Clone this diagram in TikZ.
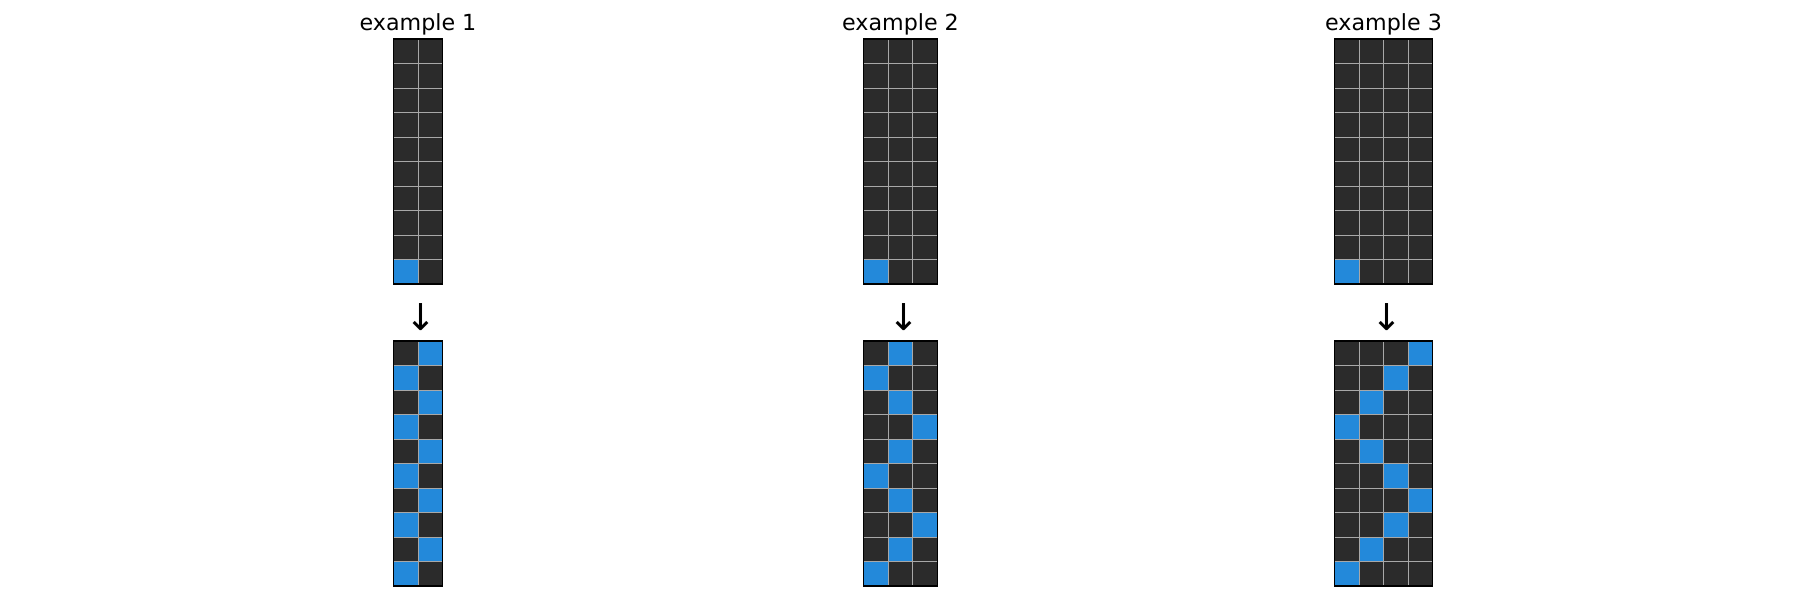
\documentclass[tikz,border=0pt]{standalone}
\usepackage{fontspec}
\setmainfont{DejaVu Sans}
\definecolor{cellbg}{HTML}{2B2B2B}
\definecolor{cellblue}{HTML}{2389DA}
\definecolor{gridgray}{HTML}{A8A8A8}
\tikzset{
  titletext/.style={font=\fontsize{11.1}{12}\selectfont, anchor=base, inner sep=0pt},
  arrowtext/.style={font=\fontsize{18.5}{19}\selectfont, inner sep=0pt},
  gridline/.style={gridgray, line width=0.45pt},
  border/.style={black, line width=0.6pt}
}
% #1 left x, #2 top y, #3 columns, #4 list of blue column per row (-1 = none)
\newcommand\cellgrid[4]{%
  \fill[cellbg] (#1,#2) rectangle ++({#3*24.5},245);
  \foreach \c [count=\r from 0] in {#4}{%
    \ifnum\c>-1
      \fill[cellblue] ({#1+\c*24.5},{#2+\r*24.5}) rectangle ++(24.5,24.5);
    \fi
  }
  \foreach \i in {1,...,9}{\draw[gridline] (#1,{#2+\i*24.5}) -- ++({#3*24.5},0);}
  \pgfmathtruncatemacro\lastc{#3-1}
  \foreach \j in {1,...,\lastc}{\draw[gridline] ({#1+\j*24.5},#2) -- ++(0,245);}
  \draw[border] (#1,#2) rectangle ++({#3*24.5},245);
}
\begin{document}
\begin{tikzpicture}[x=0.5pt,y=-0.5pt]
\useasboundingbox (0,0) rectangle (1800,600);
% example 1
\node[titletext] (t1) at (418,30.5) {example 1};
\cellgrid{393.5}{39}{2}{-1,-1,-1,-1,-1,-1,-1,-1,-1,0}
\node[arrowtext] (a1) at (421,317) {↓};
\cellgrid{393.5}{341}{2}{1,0,1,0,1,0,1,0,1,0}
% example 2
\node[titletext] (t2) at (900.5,30.5) {example 2};
\cellgrid{863.75}{39}{3}{-1,-1,-1,-1,-1,-1,-1,-1,-1,0}
\node[arrowtext] (a2) at (903.5,317) {↓};
\cellgrid{863.75}{341}{3}{1,0,1,2,1,0,1,2,1,0}
% example 3
\node[titletext] (t3) at (1383.5,30.5) {example 3};
\cellgrid{1334.5}{39}{4}{-1,-1,-1,-1,-1,-1,-1,-1,-1,0}
\node[arrowtext] (a3) at (1386.5,317) {↓};
\cellgrid{1334.5}{341}{4}{3,2,1,0,1,2,3,2,1,0}
\end{tikzpicture}
\end{document}
